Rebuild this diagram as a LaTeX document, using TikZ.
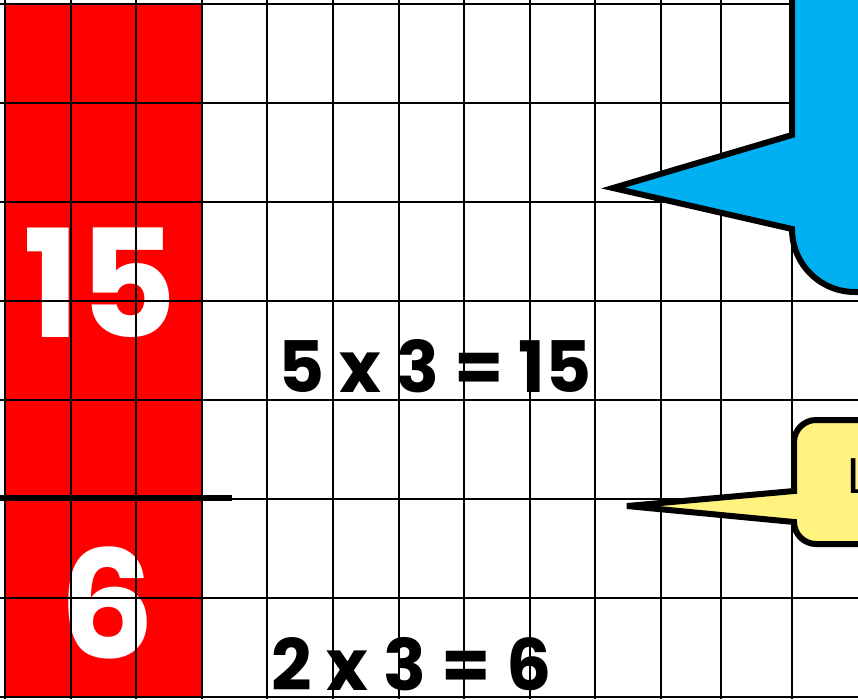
\documentclass[tikz,border=0pt]{standalone}
\usepackage{fontspec}
\setmainfont{Poppins}
\definecolor{gridred}{HTML}{FF0000}
\definecolor{callblue}{HTML}{00B0F0}
\definecolor{callyellow}{HTML}{FFF27F}
\tikzset{
  gridline/.style={draw=black, line width=2pt},
  callout/.style={draw=black, line width=6pt, line join=miter},
  bignum/.style={text=white, font=\fontsize{150}{150}\selectfont\bfseries, inner sep=0pt, anchor=base},
  eqtext/.style={text=black, font=\fontsize{71}{71}\selectfont\bfseries, inner sep=0pt, anchor=base west},
}
\begin{document}
\begin{tikzpicture}[x=1pt,y=-1pt]
\useasboundingbox (0,0) rectangle (858,699);
\clip (0,0) rectangle (858,699);
\fill[white] (0,0) rectangle (858,699);
% red columns
\fill[gridred] (5,4) rectangle (202,697);
% texts
\node[bignum] (n15) at (100,337) {15};
\node[bignum] (n6) at (107,658) {6};
\node[eqtext] (eq1) at (278,392) {5 x 3 = 15};
\node[eqtext] (eq2) at (271,690) {2 x 3 = 6};
% grid
\foreach \x in {5,70.6,136.2,201.8,267.4,333,398.6,464.2,529.8,595.4,661,721,792}
  \draw[gridline] (\x,0) -- (\x,699);
\foreach \y in {4,103,202,301,400,499,598,697}
  \draw[gridline] (0,\y) -- (858,\y);
% thick dividing line
\coordinate (d1) at (0,498);
\coordinate (d2) at (232,498);
\draw[line width=6pt] (d1) -- (d2);
% blue callout
\draw[callout, fill=callblue] (792,-10) -- (792,135) -- (613,188) -- (792,229)
  .. controls (792,264) and (820,292) .. (855,292) -- (875,292) -- (875,-10) -- cycle;
% yellow callout
\draw[callout, fill=callyellow] (794,491) -- (794,442)
  .. controls (794,430) and (804,420) .. (816,420) -- (875,420) -- (875,544) -- (816,544)
  .. controls (804,544) and (794,534) .. (794,522) -- (627,506) -- cycle;
\node[anchor=base west, inner sep=0pt, font=\fontsize{50}{50}\selectfont] (lbl) at (847,493) {L};
\end{tikzpicture}
\end{document}
